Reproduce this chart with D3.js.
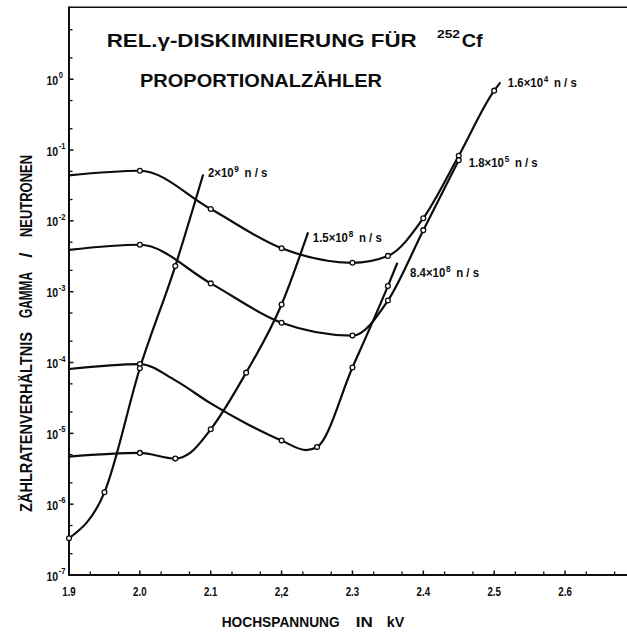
<!DOCTYPE html>
<html><head><meta charset="utf-8">
<script src="https://cdn.jsdelivr.net/npm/d3@7"></script>
<style>
html,body{margin:0;padding:0;background:#fff;}
svg{display:block;font-family:"Liberation Sans",Arial,sans-serif;}
</style></head><body>
<svg id="chart" width="627" height="634"></svg>
<script>
// ---------- data ----------
const xTicks = [1.9, 2.0, 2.1, 2.2, 2.3, 2.4, 2.5, 2.6];
const xTickLabels = ["1.9", "2.0", "2.1", "2,2", "2.3", "2.4", "2.5", "2.6"];
const xMinorTicks = [1.93,1.97,2.03,2.07,2.13,2.17,2.23,2.27,2.33,2.37,2.43,2.47,2.53,2.57,2.63,2.67];
const yTickExponents = [0, -1, -2, -3, -4, -5, -6, -7];
const yMinorMantissas = [2, 5];

// curve 1.6e4 n/s
const c1V = [1.9, 2.0, 2.1, 2.2, 2.3, 2.35, 2.4, 2.45, 2.5, 2.508];
const c1R = [4.4e-2, 5.1e-2, 1.47e-2, 4.1e-3, 2.56e-3, 3.2e-3, 1.09e-2, 8.3e-2, 0.69, 0.88];
const c1M = [0, 1, 1, 1, 1, 1, 1, 1, 1, 0];
// curve 1.8e5 n/s
const c2V = [1.9, 2.0, 2.1, 2.2, 2.3, 2.35, 2.4, 2.45];
const c2R = [3.9e-3, 4.6e-3, 1.31e-3, 3.65e-4, 2.4e-4, 7.5e-4, 7.4e-3, 7.2e-2];
const c2M = [0, 1, 1, 1, 1, 1, 1, 1];
// curve 8.4e8 n/s
const c3V = [1.9, 2.0, 2.05, 2.1, 2.15, 2.2, 2.235, 2.25, 2.3, 2.35, 2.363];
const c3R = [8.1e-5, 9.5e-5, 5.6e-5, 2.65e-5, 1.38e-5, 7.9e-6, 5.8e-6, 6.4e-6, 8.5e-5, 1.2e-3, 2.5e-3];
const c3M = [0, 1, 0, 0, 0, 1, 0, 1, 1, 1, 0];
// curve 1.5e8 n/s
const c4V = [1.9, 2.0, 2.05, 2.071, 2.1, 2.15, 2.2, 2.237];
const c4R = [4.7e-6, 5.3e-6, 4.4e-6, 5.3e-6, 1.14e-5, 7.2e-5, 6.6e-4, 6.7e-3];
const c4M = [0, 1, 1, 0, 1, 1, 1, 0];
// curve 2e9 n/s
const c5V = [1.9, 1.95, 2.0, 2.05, 2.089];
const c5R = [3.3e-7, 1.47e-6, 8.3e-5, 2.3e-3, 4.4e-2];
const c5M = [1, 1, 1, 1, 0];

const labelMantissas = ["1.6×10", "1.8×10", "8.4×10", "1.5×10", "2×10"];
const labelExponents = ["4", "5", "8", "8", "9"];

// ---------- drawing ----------
const svg = d3.select("#chart");
const x = d3.scaleLinear().domain([1.9, 2.7]).range([69, 635.9]);
const y = d3.scaleLog().domain([1e-7, 1e1]).range([575, 8.4]);

const ink = "#0d0d0d";

function fitText(g, str, xPos, yPos, len, size, anchor) {
  return g.append("text").attr("x", xPos).attr("y", yPos)
    .attr("font-size", size).attr("font-weight", "bold").attr("fill", ink)
    .attr("text-anchor", anchor || "start")
    .attr("textLength", len).attr("lengthAdjust", "spacingAndGlyphs")
    .text(str);
}

// condensed text with a superscript: base + sup + tail, in one <text>
function supText(g, xPos, yPos, sx, size, base, sup, tail, supRise, tailGap) {
  const gg = g.append("g").attr("transform", `translate(${xPos},${yPos}) scale(${sx},1)`);
  const t = gg.append("text").attr("x", 0).attr("y", 0)
    .attr("font-size", size).attr("font-weight", "bold").attr("fill", ink);
  t.append("tspan").text(base);
  t.append("tspan").attr("font-size", size * 0.72).attr("dy", -supRise).attr("dx", 0.8).text(sup);
  if (tail) t.append("tspan").attr("dy", supRise).attr("dx", tailGap).text(tail);
  return t;
}

// frame / axes
svg.append("line").attr("x1", x(1.9)).attr("x2", 627).attr("y1", y(1e1) - 1.2).attr("y2", y(1e1) - 1.2)
  .attr("stroke", ink).attr("stroke-width", 1.5);
svg.append("line").attr("x1", x(1.9)).attr("x2", x(1.9)).attr("y1", y(1e1) - 2).attr("y2", y(1e-7) + 1)
  .attr("stroke", ink).attr("stroke-width", 2);
svg.append("line").attr("x1", x(1.9) - 1).attr("x2", 627).attr("y1", y(1e-7)).attr("y2", y(1e-7))
  .attr("stroke", ink).attr("stroke-width", 2);

// x ticks
const xAxisG = svg.append("g");
xTicks.forEach((v, i) => {
  if (i > 0) xAxisG.append("line").attr("x1", x(v)).attr("x2", x(v)).attr("y1", y(1e-7)).attr("y2", y(1e-7) - 4.5)
    .attr("stroke", ink).attr("stroke-width", 1.5);
  fitText(xAxisG, xTickLabels[i], x(v), 595.5, 13.5, 12.5, "middle");
});
xMinorTicks.forEach(v => {
  xAxisG.append("line").attr("x1", x(v)).attr("x2", x(v)).attr("y1", y(1e-7)).attr("y2", y(1e-7) - 3.5)
    .attr("stroke", ink).attr("stroke-width", 1.3);
});

// y ticks
const yAxisG = svg.append("g");
yTickExponents.forEach(e => {
  const yy = y(Math.pow(10, e));
  if (e > -7) yAxisG.append("line").attr("x1", x(1.9)).attr("x2", x(1.9) + 4.5).attr("y1", yy).attr("y2", yy)
    .attr("stroke", ink).attr("stroke-width", 1.5);
  supText(yAxisG, 46.5, yy + 5.5, 0.78, 13.5, "10", String(e), null, 6.5, 0);
});
for (let e = -7; e < 1; e++) {
  yMinorMantissas.forEach(m => {
    const yy = y(m * Math.pow(10, e));
    yAxisG.append("line").attr("x1", x(1.9)).attr("x2", x(1.9) + 3.5).attr("y1", yy).attr("y2", yy)
      .attr("stroke", ink).attr("stroke-width", 1.3);
  });
}

// curves
const curves = [
  [c1V, c1R, c1M], [c2V, c2R, c2M], [c3V, c3R, c3M], [c4V, c4R, c4M], [c5V, c5R, c5M]
].map(([vs, rs, ms]) => vs.map((v, i) => ({v: v, r: rs[i], m: ms[i]})));

const line = d3.line().x(d => x(d.v)).y(d => y(d.r)).curve(d3.curveMonotoneX);
const curveG = svg.append("g");
curves.forEach(pts => {
  curveG.append("path").attr("d", line(pts)).attr("fill", "none")
    .attr("stroke", ink).attr("stroke-width", 2.2).attr("stroke-linecap", "round");
});
curves.forEach(pts => {
  pts.filter(d => d.m).forEach(d => {
    curveG.append("circle").attr("cx", x(d.v)).attr("cy", y(d.r)).attr("r", 2.4)
      .attr("fill", "#fff").attr("stroke", ink).attr("stroke-width", 1.3);
  });
});

// curve labels (anchored to the curve end point)
const labelOffsets = [[8, 3.5], [10, 7], [13, 13.5], [5, 8.5], [5, 1.5]];
const labelG = svg.append("g");
curves.forEach((pts, i) => {
  const end = pts[pts.length - 1];
  const lx = x(end.v) + labelOffsets[i][0];
  const ly = y(end.r) + labelOffsets[i][1];
  supText(labelG, lx, ly, 0.95, 12, labelMantissas[i], labelExponents[i], "n / s", 5, 6);
});

// titles
const tg = svg.append("g");
fitText(tg, "REL.γ-DISKIMINIERUNG  FÜR", 106.7, 46.7, 310, 17.5, "start");
fitText(tg, "252", 437, 37.5, 23, 11, "start");
fitText(tg, "Cf", 461.7, 46.7, 21, 17.5, "start");
fitText(tg, "PROPORTIONALZÄHLER", 140, 87.3, 242, 18.5, "start");

// axis titles
const ag = svg.append("g");
fitText(ag, "HOCHSPANNUNG", 221.7, 627.3, 118, 15.5, "start");
fitText(ag, "IN", 355.7, 627.3, 17, 15.5, "start");
fitText(ag, "kV", 386.7, 627.3, 17.5, 15.5, "start");

const yl = ag.append("g").attr("transform", "translate(31.5,0)");
function yText(str, yStart, yEnd, size, fit) {
  const mid = (yStart + yEnd) / 2;
  const t = yl.append("text").attr("x", 0).attr("y", 0)
    .attr("font-size", size).attr("font-weight", "bold").attr("fill", ink)
    .attr("text-anchor", "middle")
    .attr("transform", `translate(0,${mid}) rotate(-90)`).text(str);
  if (fit) t.attr("textLength", yEnd - yStart).attr("lengthAdjust", "spacingAndGlyphs");
}
yText("ZÄHLRATENVERHÄLTNIS", 332, 512, 17, true);
yText("GAMMA", 272, 318, 17.5, true);
yText("/", 247, 263, 19, false);
yText("NEUTRONEN", 155, 237, 17, true);
</script>
</body></html>
